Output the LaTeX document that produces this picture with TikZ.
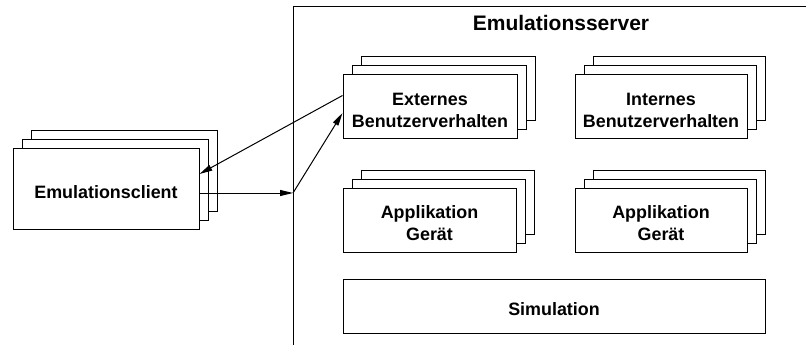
\documentclass[tikz,border=0pt]{standalone}
\usepackage{fontspec}
\setmainfont{Liberation Sans}
\usetikzlibrary{arrows.meta,shadows}

% centred text block; the tall first-row rule sets it a little below the box centre
\newcommand{\boxtext}[1]{\begin{tabular}{@{}c@{}}\rule{0pt}{26.4pt}#1\end{tabular}}

\tikzset{
  box/.style={draw, fill=white, line width=1pt, inner sep=0pt,
    font=\fontsize{17.9}{22}\selectfont\bfseries},
  stackbox/.style={box, double copy shadow={shadow xshift=9pt, shadow yshift=9pt}},
  link/.style={line width=1pt, -{Triangle[length=13pt,width=6pt]}},
  frameline/.style={line width=1pt},
}

\begin{document}
\begin{tikzpicture}[x=1pt, y=-1pt]
  \useasboundingbox (0,0) rectangle (806,345);

  % server frame, open to the right and bottom
  \draw[frameline] (806,7) -- (293,7) -- (293,345);
  \node[font=\fontsize{21}{24}\selectfont\bfseries, anchor=base] (title) at (561,31) {Emulationsserver};

  % client stack
  \node[stackbox, minimum width=186pt, minimum height=81pt] (cli) at (106,188.5) {\boxtext{Emulationsclient}};

  % server components
  \node[stackbox, minimum width=174pt, minimum height=63pt] (ext) at (430,106.5) {\boxtext{Externes\\Benutzerverhalten}};
  \node[stackbox, minimum width=172pt, minimum height=63pt] (int) at (661,106.5) {\boxtext{Internes\\Benutzerverhalten}};
  \node[stackbox, minimum width=173pt, minimum height=64pt] (appl) at (429.5,220) {\boxtext{Applikation\\Gerät}};
  \node[stackbox, minimum width=172pt, minimum height=64pt] (appr) at (661,220) {\boxtext{Applikation\\Gerät}};
  \node[box, minimum width=422pt, minimum height=54pt] (sim) at (554,306) {\boxtext{Simulation}};

  % connections
  \coordinate (entry) at (293,193);
  \draw[link] ([yshift=11pt]ext.west) -- ([yshift=14.5pt]cli.east);
  \draw[link] ([yshift=-4.5pt]cli.east) -- (entry);
  \draw[link] (entry) -- ([yshift=-6.5pt]ext.west);
\end{tikzpicture}
\end{document}
